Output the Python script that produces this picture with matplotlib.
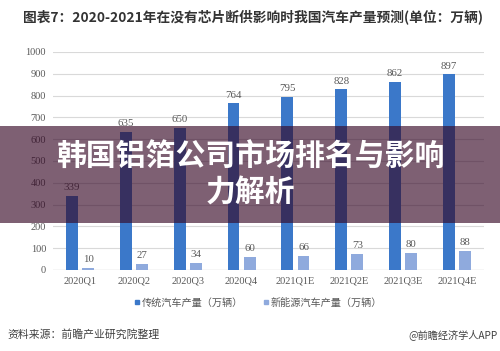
import matplotlib.pyplot as plt
from matplotlib.patches import Rectangle
from matplotlib.lines import Line2D
import numpy as np

CJK = ["Noto Sans CJK SC", "DejaVu Sans"]
SERIF = ["Liberation Serif", "DejaVu Serif"]

quarters = ["2020Q1", "2020Q2", "2020Q3", "2020Q4",
            "2021Q1E", "2021Q2E", "2021Q3E", "2021Q4E"]
traditional = [339, 635, 650, 764, 795, 828, 862, 897]
new_energy = [10, 27, 34, 60, 66, 73, 80, 88]
series_names = ["传统汽车产量（万辆）", "新能源汽车产量（万辆）"]
yticks = [0, 100, 200, 300, 400, 500, 600, 700, 800, 900, 1000]

C_TRAD = "#3B78C9"
C_NEV = "#8FAADD"
GRAY = "#595959"

fig = plt.figure(figsize=(5.0, 3.51), dpi=100)
ax = fig.add_axes([0.106, 0.2308, 0.862, 0.6211])

x = np.arange(len(quarters))
w = 0.22
b1 = ax.bar(x - 0.15, traditional, w, color=C_TRAD, zorder=3)
b2 = ax.bar(x + 0.15, new_energy, w, color=C_NEV, zorder=3)
for bars, vals in ((b1, traditional), (b2, new_energy)):
    for b, v in zip(bars, vals):
        ax.text(b.get_x() + b.get_width() / 2, v + 18, str(v), ha="center", va="bottom",
                fontsize=7.8, family=SERIF, color=GRAY)

ax.set_ylim(0, 1000)
ax.set_xlim(-0.5, len(quarters) - 0.5)
ax.set_yticks(yticks)
ax.set_yticklabels([str(t) for t in yticks], family=SERIF, fontsize=7.5, color=GRAY)
ax.set_xticks(x)
ax.set_xticklabels(quarters, family=SERIF, fontsize=7.5, color=GRAY)
ax.tick_params(length=0, pad=5)
ax.yaxis.grid(True, color="#D9D9D9", lw=0.8, zorder=0)
for s in ax.spines.values():
    s.set_visible(False)
ax.axhline(0, color="#D0D0D0", lw=0.9, zorder=2)

handles = [Line2D([], [], marker="s", ls="", color=C_TRAD, markersize=3.5),
           Line2D([], [], marker="s", ls="", color=C_NEV, markersize=3.5)]
fig.legend(handles, series_names, loc="center", bbox_to_anchor=(0.515, 0.137), ncol=2,
           frameon=False, prop={"family": CJK, "size": 7.3}, labelcolor=GRAY,
           handletextpad=0.1, columnspacing=1.8, handlelength=0.8)

fig.text(0.046, 0.952, "图表7：2020-2021年在没有芯片断供影响时我国汽车产量预测(单位：万辆)",
         family=CJK, fontsize=9.9, fontweight="bold", color="#333333", va="center")
fig.text(0.014, 0.048, "资料来源：前瞻产业研究院整理", family=CJK, fontsize=7.8,
         color="#404040", va="center")
fig.text(0.996, 0.048, "@前瞻经济学人APP", family=CJK, fontsize=7.3,
         color="#404040", va="center", ha="right")

# overlay banner
fig.add_artist(Rectangle((0, 0.3647), 1, 0.2764, transform=fig.transFigure,
                         facecolor=(0.21, 0.03, 0.15), alpha=0.645, edgecolor="none", zorder=10))
fig.text(0.5, 0.553, "韩国铝箔公司市场排名与影响", family=CJK, fontsize=21.5,
         fontweight="bold", color="white", ha="center", va="center", zorder=11)
fig.text(0.5, 0.450, "力解析", family=CJK, fontsize=21.5,
         fontweight="bold", color="white", ha="center", va="center", zorder=11)

fig.savefig("out.png", dpi=100)
